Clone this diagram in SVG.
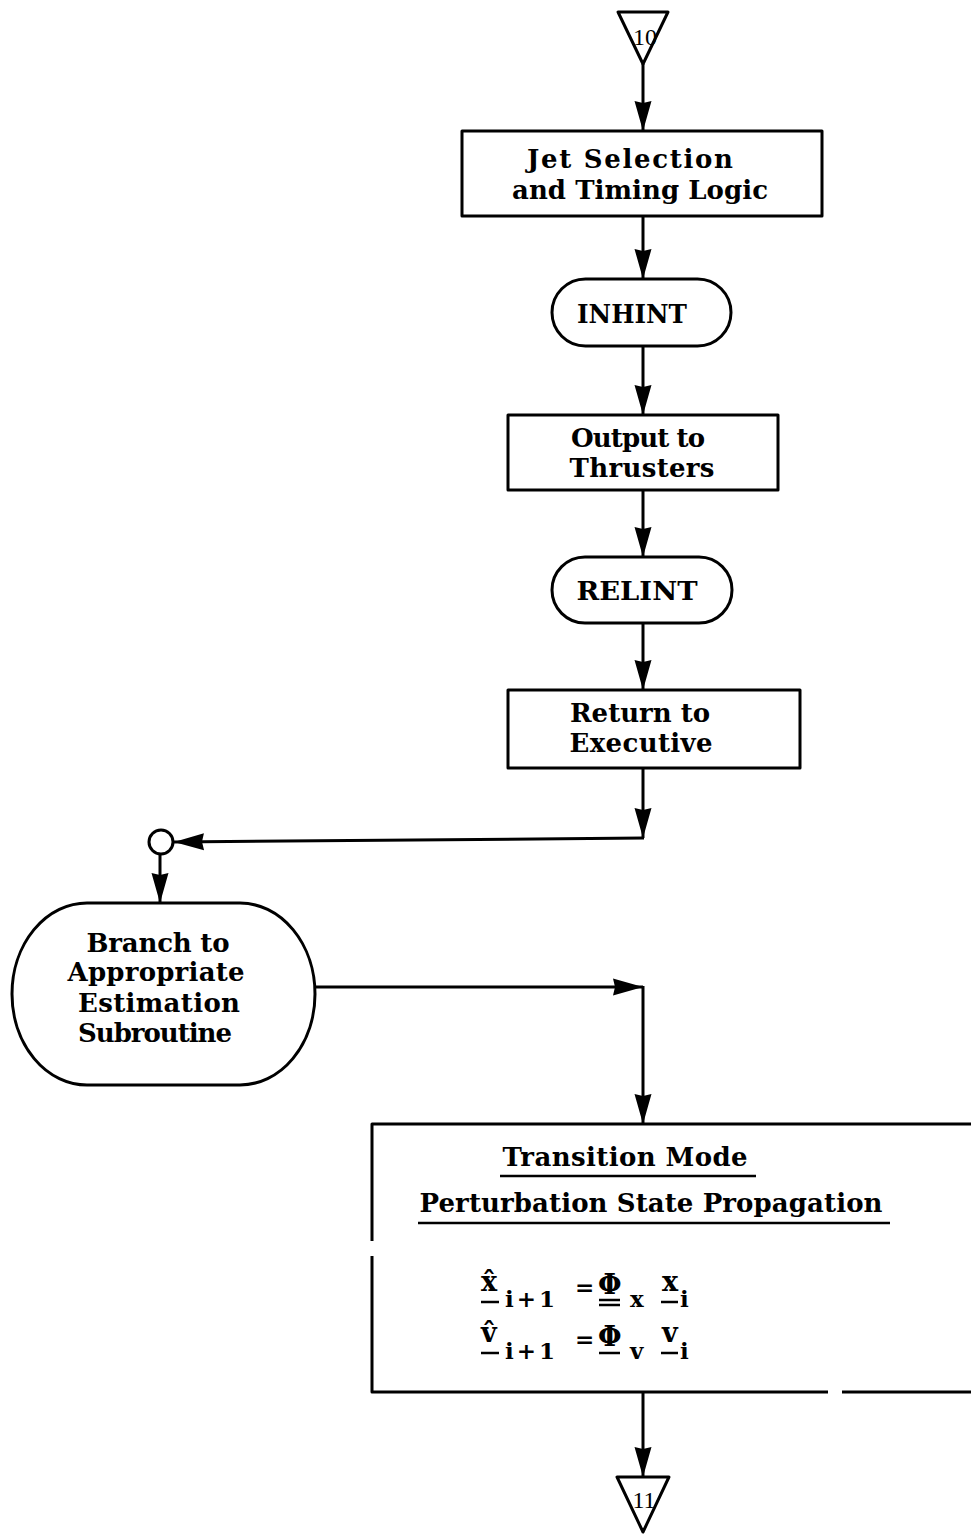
<svg xmlns="http://www.w3.org/2000/svg" width="971" height="1535" viewBox="0 0 971 1535">
<style>
.shape{fill:none;stroke:#000;stroke-width:3;stroke-linejoin:round}
.conn{fill:none;stroke:#000;stroke-width:3}
.lbl{font-family:"DejaVu Serif","Liberation Serif",serif;font-weight:bold;font-size:26px;fill:#000;text-anchor:middle}
.eq{font-family:"DejaVu Serif","Liberation Serif",serif;font-weight:bold;font-size:27px;fill:#000}
.sub{font-family:"DejaVu Serif","Liberation Serif",serif;font-weight:bold;font-size:23px;fill:#000}
.num{font-family:"Liberation Serif","DejaVu Serif",serif;font-size:24px;fill:#000;text-anchor:middle}
.ul{stroke:#000;stroke-width:2.5}
</style>
<defs>
<marker id="ah" viewBox="0 0 30 18" refX="30" refY="9" markerWidth="30" markerHeight="18" markerUnits="userSpaceOnUse" orient="auto">
<path d="M0,0.5 L30,9 L0,17.5 L2,9 z" fill="#000"/>
</marker>
</defs>
<rect width="971" height="1535" fill="#fff"/>

<g id="connectors">
<line class="conn" x1="643" y1="64" x2="643" y2="131" marker-end="url(#ah)"/>
<line class="conn" x1="643" y1="216" x2="643" y2="279" marker-end="url(#ah)"/>
<line class="conn" x1="643" y1="346" x2="643" y2="415" marker-end="url(#ah)"/>
<line class="conn" x1="643" y1="490" x2="643" y2="557" marker-end="url(#ah)"/>
<line class="conn" x1="643" y1="623" x2="643" y2="690" marker-end="url(#ah)"/>
<line class="conn" x1="643" y1="768" x2="643" y2="838" marker-end="url(#ah)"/>
<line class="conn" x1="644" y1="838" x2="174" y2="842" marker-end="url(#ah)"/>
<line class="conn" x1="160" y1="854" x2="160" y2="903" marker-end="url(#ah)"/>
<line class="conn" x1="315" y1="987" x2="643" y2="987" marker-end="url(#ah)"/>
<line class="conn" x1="643" y1="986" x2="643" y2="1124" marker-end="url(#ah)"/>
<line class="conn" x1="643" y1="1392" x2="643" y2="1477" marker-end="url(#ah)"/>
</g>

<g id="offpage-10">
<path class="shape" d="M618,12 L668,12 L643,64 Z"/>
<text class="num" x="645" y="45">10</text>
</g>

<g id="jet-selection">
<rect class="shape" x="462" y="131" width="360" height="85"/>
<text class="lbl" x="630" y="168" textLength="206" lengthAdjust="spacing">Jet Selection</text>
<text class="lbl" x="640" y="199" textLength="256" lengthAdjust="spacing">and Timing Logic</text>
</g>

<g id="inhint">
<rect class="shape" x="552" y="279" width="179" height="67" rx="33.5" ry="33.5"/>
<text class="lbl" x="632" y="323" font-size="27" textLength="110" lengthAdjust="spacingAndGlyphs">INHINT</text>
</g>

<g id="output-thrusters">
<rect class="shape" x="508" y="415" width="270" height="75"/>
<text class="lbl" x="638" y="447" textLength="134" lengthAdjust="spacing">Output to</text>
<text class="lbl" x="642" y="477" textLength="145" lengthAdjust="spacing">Thrusters</text>
</g>

<g id="relint">
<rect class="shape" x="552" y="557" width="180" height="66" rx="33" ry="33"/>
<text class="lbl" x="637" y="600" font-size="27" textLength="121" lengthAdjust="spacingAndGlyphs">RELINT</text>
</g>

<g id="return-executive">
<rect class="shape" x="508" y="690" width="292" height="78"/>
<text class="lbl" x="640" y="722" textLength="140" lengthAdjust="spacing">Return to</text>
<text class="lbl" x="641" y="752" textLength="143" lengthAdjust="spacing">Executive</text>
</g>

<g id="connector-circle">
<circle cx="161" cy="842" r="12" fill="#fff" stroke="#000" stroke-width="3"/>
</g>

<g id="branch">
<path class="shape" d="M87,903 L240,903 A75,91 0 0 1 315,994 A75,91 0 0 1 240,1085 L87,1085 A75,91 0 0 1 12,994 A75,91 0 0 1 87,903 Z"/>
<text class="lbl" x="158" y="952" textLength="143" lengthAdjust="spacing">Branch to</text>
<text class="lbl" x="156" y="981" textLength="177" lengthAdjust="spacing">Appropriate</text>
<text class="lbl" x="159" y="1012" textLength="162" lengthAdjust="spacing">Estimation</text>
<text class="lbl" x="155" y="1042" textLength="154" lengthAdjust="spacing">Subroutine</text>
</g>

<g id="transition-mode">
<path class="shape" d="M975,1124 L372,1124 L372,1241 M372,1256 L372,1392 L828,1392 M842,1392 L975,1392"/>
<text class="lbl" x="625" y="1166" textLength="245" lengthAdjust="spacing">Transition Mode</text>
<line class="ul" x1="500" y1="1176" x2="756" y2="1176"/>
<text class="lbl" x="651" y="1212" textLength="463" lengthAdjust="spacing">Perturbation State Propagation</text>
<line class="ul" x1="418" y1="1223" x2="890" y2="1223"/>

<text class="eq" x="481" y="1291">x̂</text>
<line class="ul" x1="481" y1="1302" x2="499" y2="1302"/>
<text class="sub" x="505" y="1307" textLength="50" lengthAdjust="spacing">i+1</text>
<text class="sub" x="575" y="1295" font-size="15">=</text>
<text class="eq" x="598" y="1294" font-size="25">Φ</text>
<line class="ul" x1="599" y1="1300" x2="620" y2="1300"/>
<line class="ul" x1="599" y1="1305" x2="620" y2="1305"/>
<text class="sub" x="630" y="1307">x</text>
<text class="eq" x="662" y="1291" font-size="25">x</text>
<line class="ul" x1="661" y1="1302" x2="678" y2="1302"/>
<text class="sub" x="680" y="1307">i</text>

<text class="eq" x="481" y="1342">v̂</text>
<line class="ul" x1="481" y1="1353" x2="499" y2="1353"/>
<text class="sub" x="505" y="1359" textLength="50" lengthAdjust="spacing">i+1</text>
<text class="sub" x="575" y="1347" font-size="15">=</text>
<text class="eq" x="598" y="1346" font-size="25">Φ</text>
<line class="ul" x1="599" y1="1353" x2="620" y2="1353" stroke-width="3.5"/>
<text class="sub" x="630" y="1359">v</text>
<text class="eq" x="662" y="1342" font-size="25">v</text>
<line class="ul" x1="661" y1="1353" x2="678" y2="1353"/>
<text class="sub" x="680" y="1359">i</text>
</g>

<g id="offpage-11">
<path class="shape" d="M617,1477 L669,1477 L643,1532 Z"/>
<text class="num" x="644" y="1508">11</text>
</g>
</svg>
